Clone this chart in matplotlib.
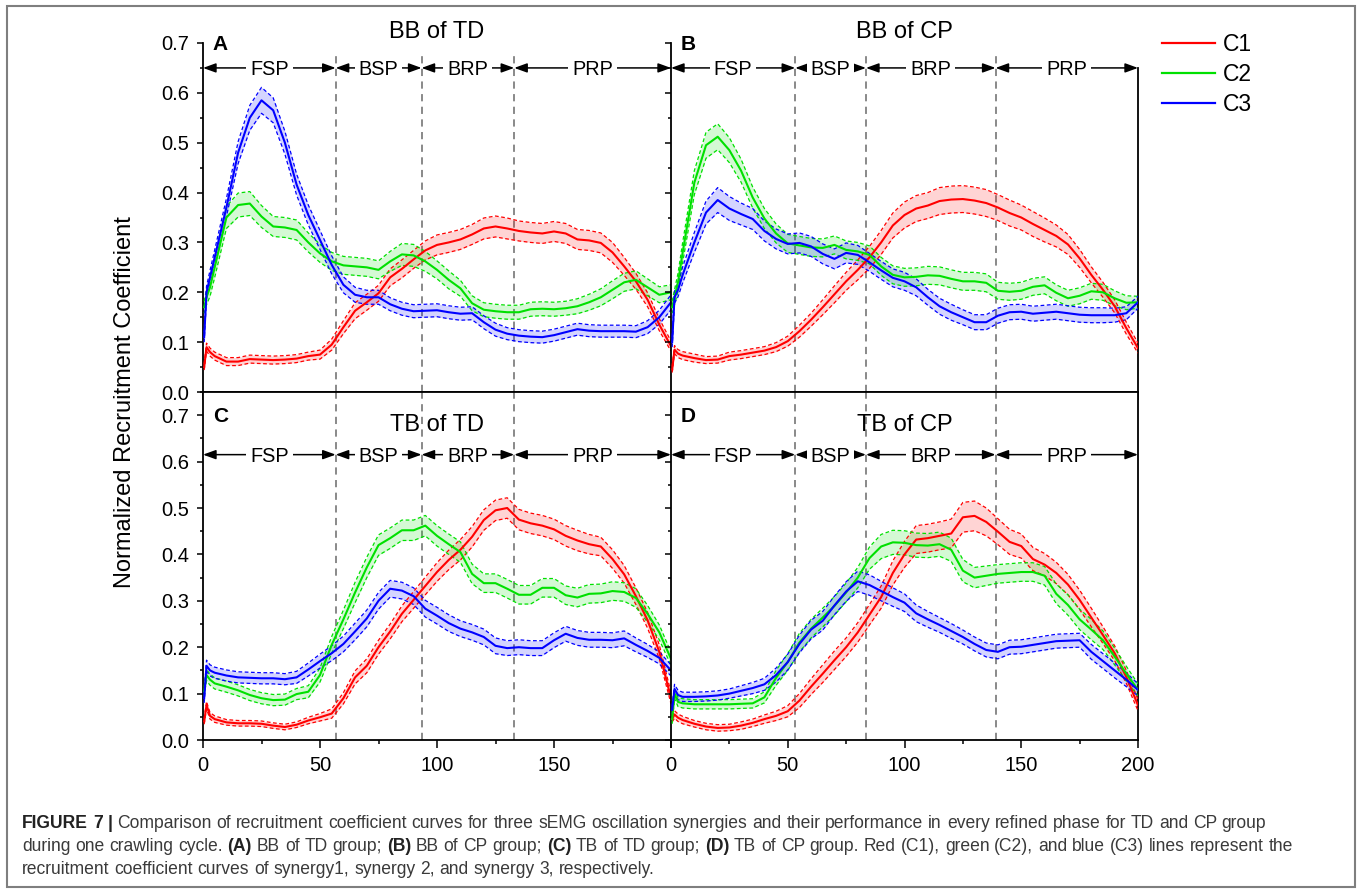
import numpy as np
import matplotlib
matplotlib.use("Agg")
import matplotlib.pyplot as plt
from matplotlib.patches import Rectangle
from matplotlib.lines import Line2D
from matplotlib.ticker import MultipleLocator

plt.rcParams["font.family"] = ["Liberation Sans", "DejaVu Sans"]

# sample positions along the crawling cycle
X = [0.5, 1.5, 3, 5,
     10, 15, 20, 25, 30, 35, 40, 45, 50,
     55, 60, 65, 70, 75, 80, 85, 90, 95, 100,
     105, 110, 115, 120, 125, 130, 135, 140, 145, 150,
     155, 160, 165, 170, 175, 180, 185, 190, 195, 200]

# ---- A: BB of TD
A_C1 = [0.05, 0.09, 0.08, 0.072,
        0.061, 0.061, 0.066, 0.065, 0.064, 0.065, 0.067, 0.072, 0.075,
        0.095, 0.13, 0.163, 0.18, 0.198, 0.23, 0.247, 0.266, 0.284, 0.295,
        0.30, 0.306, 0.316, 0.328, 0.332, 0.328, 0.323, 0.32, 0.318, 0.322,
        0.318, 0.306, 0.304, 0.299, 0.28, 0.252, 0.222, 0.185, 0.135, 0.092]
A_C1_SD = [0.006, 0.008, 0.008, 0.008,
           0.008, 0.008, 0.008, 0.008, 0.008, 0.008, 0.008, 0.008, 0.009,
           0.011, 0.013, 0.016, 0.016, 0.016, 0.017, 0.018, 0.018, 0.019, 0.02,
           0.02, 0.02, 0.02, 0.021, 0.021, 0.021, 0.02, 0.02, 0.02, 0.02,
           0.02, 0.02, 0.02, 0.02, 0.02, 0.018, 0.016, 0.014, 0.012, 0.01]
A_C2 = [0.17, 0.19, 0.21, 0.25,
        0.35, 0.375, 0.378, 0.352, 0.332, 0.33, 0.325, 0.30, 0.278,
        0.262, 0.254, 0.252, 0.25, 0.245, 0.262, 0.276, 0.274, 0.262, 0.245,
        0.225, 0.208, 0.178, 0.165, 0.162, 0.16, 0.16, 0.166, 0.167, 0.166,
        0.168, 0.172, 0.18, 0.19, 0.205, 0.22, 0.225, 0.21, 0.195, 0.2]
A_C2_SD = [0.012, 0.015, 0.018, 0.02,
           0.022, 0.024, 0.024, 0.022, 0.02, 0.02, 0.02, 0.019, 0.018,
           0.018, 0.018, 0.018, 0.018, 0.018, 0.02, 0.022, 0.022, 0.02, 0.018,
           0.018, 0.016, 0.015, 0.014, 0.014, 0.014, 0.014, 0.014, 0.014, 0.014,
           0.014, 0.015, 0.016, 0.017, 0.018, 0.018, 0.018, 0.017, 0.016, 0.015]
A_C3 = [0.11, 0.2, 0.23, 0.27,
        0.37, 0.48, 0.55, 0.585, 0.565, 0.50, 0.416, 0.355, 0.305,
        0.255, 0.215, 0.195, 0.19, 0.19, 0.176, 0.167, 0.162, 0.163, 0.164,
        0.160, 0.157, 0.158, 0.140, 0.125, 0.117, 0.113, 0.111, 0.110, 0.114,
        0.120, 0.126, 0.123, 0.122, 0.122, 0.122, 0.121, 0.130, 0.150, 0.18]
A_C3_SD = [0.01, 0.012, 0.014, 0.015,
           0.018, 0.022, 0.025, 0.026, 0.025, 0.023, 0.021, 0.02, 0.019,
           0.018, 0.016, 0.015, 0.014, 0.014, 0.013, 0.013, 0.013, 0.013, 0.013,
           0.013, 0.013, 0.013, 0.013, 0.013, 0.012, 0.012, 0.012, 0.012, 0.012,
           0.012, 0.012, 0.012, 0.012, 0.012, 0.012, 0.012, 0.013, 0.014, 0.015]

# ---- B: BB of CP
B_C1 = [0.045, 0.085, 0.077, 0.073,
        0.068, 0.064, 0.065, 0.072, 0.075, 0.079, 0.083, 0.09, 0.102,
        0.122, 0.145, 0.17, 0.196, 0.222, 0.245, 0.27, 0.30, 0.334, 0.355,
        0.368, 0.374, 0.383, 0.386, 0.387, 0.384, 0.379, 0.37, 0.359, 0.35,
        0.337, 0.325, 0.313, 0.296, 0.268, 0.235, 0.205, 0.172, 0.128, 0.088]
B_C1_SD = [0.006, 0.008, 0.008, 0.008,
           0.008, 0.007, 0.007, 0.008, 0.008, 0.008, 0.008, 0.009, 0.01,
           0.012, 0.013, 0.015, 0.017, 0.018, 0.02, 0.022, 0.024, 0.025, 0.026,
           0.026, 0.026, 0.027, 0.027, 0.027, 0.027, 0.027, 0.026, 0.026, 0.025,
           0.025, 0.024, 0.022, 0.02, 0.018, 0.016, 0.015, 0.013, 0.012, 0.01]
B_C2 = [0.17, 0.19, 0.22, 0.28,
        0.42, 0.495, 0.512, 0.485, 0.444, 0.39, 0.348, 0.318, 0.298,
        0.294, 0.29, 0.289, 0.295, 0.285, 0.282, 0.275, 0.252, 0.235, 0.23,
        0.231, 0.234, 0.233, 0.227, 0.222, 0.222, 0.219, 0.203, 0.201, 0.203,
        0.211, 0.214, 0.199, 0.188, 0.193, 0.202, 0.2, 0.188, 0.179, 0.18]
B_C2_SD = [0.012, 0.015, 0.018, 0.02,
           0.024, 0.026, 0.026, 0.025, 0.023, 0.021, 0.02, 0.019, 0.018,
           0.018, 0.018, 0.018, 0.018, 0.018, 0.018, 0.018, 0.018, 0.018, 0.018,
           0.018, 0.018, 0.018, 0.018, 0.018, 0.018, 0.018, 0.017, 0.017, 0.017,
           0.017, 0.017, 0.016, 0.016, 0.016, 0.016, 0.016, 0.015, 0.014, 0.012]
B_C3 = [0.10, 0.19, 0.205, 0.235,
        0.30, 0.36, 0.385, 0.368, 0.357, 0.347, 0.323, 0.307, 0.297,
        0.299, 0.292, 0.277, 0.267, 0.279, 0.275, 0.26, 0.244, 0.229, 0.222,
        0.21, 0.19, 0.172, 0.16, 0.15, 0.14, 0.14, 0.153, 0.16, 0.161,
        0.157, 0.159, 0.161, 0.158, 0.155, 0.154, 0.154, 0.154, 0.158, 0.18]
B_C3_SD = [0.01, 0.012, 0.014, 0.016,
           0.02, 0.023, 0.025, 0.024, 0.022, 0.021, 0.02, 0.02, 0.02,
           0.02, 0.02, 0.02, 0.02, 0.02, 0.019, 0.018, 0.018, 0.018, 0.018,
           0.017, 0.016, 0.016, 0.016, 0.015, 0.015, 0.015, 0.015, 0.015, 0.015,
           0.015, 0.015, 0.015, 0.015, 0.015, 0.015, 0.015, 0.014, 0.013, 0.012]

# ---- C: TB of TD
C_C1 = [0.04, 0.075, 0.052, 0.045,
        0.038, 0.036, 0.036, 0.035, 0.031, 0.028, 0.033, 0.042, 0.049,
        0.057, 0.09, 0.135, 0.16, 0.2, 0.234, 0.272, 0.302, 0.332, 0.362,
        0.388, 0.41, 0.438, 0.474, 0.495, 0.5, 0.475, 0.467, 0.462, 0.454,
        0.44, 0.43, 0.422, 0.417, 0.39, 0.357, 0.31, 0.258, 0.19, 0.09]
C_C1_SD = [0.006, 0.008, 0.007, 0.007,
           0.006, 0.006, 0.006, 0.006, 0.006, 0.006, 0.006, 0.007, 0.008,
           0.01, 0.012, 0.014, 0.015, 0.015, 0.016, 0.017, 0.018, 0.019, 0.02,
           0.021, 0.022, 0.022, 0.022, 0.022, 0.022, 0.022, 0.022, 0.022, 0.022,
           0.022, 0.022, 0.021, 0.02, 0.02, 0.019, 0.018, 0.017, 0.015, 0.012]
C_C2 = [0.105, 0.14, 0.13, 0.122,
        0.115, 0.107, 0.097, 0.09, 0.086, 0.087, 0.099, 0.104, 0.14,
        0.205, 0.26, 0.318, 0.372, 0.42, 0.435, 0.452, 0.452, 0.462, 0.44,
        0.422, 0.405, 0.358, 0.338, 0.338, 0.326, 0.313, 0.313, 0.328, 0.328,
        0.312, 0.307, 0.315, 0.316, 0.321, 0.319, 0.306, 0.272, 0.232, 0.175]
C_C2_SD = [0.01, 0.012, 0.012, 0.012,
           0.012, 0.012, 0.012, 0.012, 0.012, 0.012, 0.012, 0.013, 0.015,
           0.018, 0.02, 0.022, 0.022, 0.022, 0.022, 0.022, 0.022, 0.022, 0.022,
           0.022, 0.022, 0.021, 0.02, 0.02, 0.02, 0.02, 0.02, 0.02, 0.02,
           0.02, 0.02, 0.02, 0.02, 0.02, 0.02, 0.02, 0.018, 0.016, 0.014]
C_C3 = [0.09, 0.16, 0.15, 0.145,
        0.139, 0.135, 0.134, 0.133, 0.133, 0.131, 0.135, 0.152, 0.17,
        0.187, 0.207, 0.234, 0.262, 0.3, 0.326, 0.322, 0.31, 0.283, 0.268,
        0.252, 0.24, 0.232, 0.222, 0.203, 0.198, 0.2, 0.198, 0.198, 0.215,
        0.229, 0.22, 0.216, 0.216, 0.215, 0.219, 0.205, 0.192, 0.177, 0.15]
C_C3_SD = [0.01, 0.012, 0.012, 0.012,
           0.012, 0.012, 0.012, 0.012, 0.012, 0.012, 0.013, 0.014, 0.015,
           0.016, 0.017, 0.018, 0.018, 0.018, 0.018, 0.018, 0.018, 0.018, 0.018,
           0.018, 0.017, 0.017, 0.017, 0.017, 0.016, 0.016, 0.016, 0.016, 0.016,
           0.016, 0.016, 0.016, 0.016, 0.016, 0.016, 0.015, 0.014, 0.013, 0.012]

# ---- D: TB of CP
D_C1 = [0.045, 0.055, 0.048, 0.043,
        0.035, 0.029, 0.026, 0.027, 0.031, 0.037, 0.045, 0.052, 0.062,
        0.085, 0.115, 0.143, 0.172, 0.2, 0.232, 0.27, 0.308, 0.36, 0.4,
        0.432, 0.435, 0.44, 0.445, 0.48, 0.483, 0.47, 0.449, 0.427, 0.418,
        0.39, 0.378, 0.36, 0.335, 0.302, 0.264, 0.226, 0.187, 0.136, 0.075]
D_C1_SD = [0.006, 0.008, 0.008, 0.008,
           0.007, 0.007, 0.007, 0.007, 0.008, 0.008, 0.009, 0.01, 0.012,
           0.015, 0.017, 0.019, 0.02, 0.02, 0.021, 0.022, 0.024, 0.026, 0.028,
           0.03, 0.03, 0.03, 0.031, 0.032, 0.032, 0.03, 0.028, 0.027, 0.026,
           0.025, 0.024, 0.023, 0.022, 0.021, 0.02, 0.018, 0.016, 0.014, 0.012]
D_C2 = [0.045, 0.1, 0.082, 0.079,
        0.077, 0.077, 0.077, 0.077, 0.078, 0.079, 0.092, 0.134, 0.168,
        0.21, 0.24, 0.264, 0.289, 0.318, 0.35, 0.392, 0.417, 0.426, 0.425,
        0.42, 0.419, 0.422, 0.41, 0.365, 0.35, 0.354, 0.358, 0.36, 0.362,
        0.362, 0.354, 0.315, 0.291, 0.26, 0.238, 0.215, 0.18, 0.143, 0.108]
D_C2_SD = [0.01, 0.01, 0.01, 0.01,
           0.01, 0.01, 0.01, 0.01, 0.01, 0.01, 0.012, 0.016, 0.018,
           0.02, 0.02, 0.02, 0.02, 0.02, 0.022, 0.024, 0.026, 0.026, 0.026,
           0.026, 0.026, 0.026, 0.025, 0.024, 0.022, 0.021, 0.02, 0.02, 0.02,
           0.02, 0.02, 0.021, 0.022, 0.022, 0.022, 0.02, 0.018, 0.016, 0.013]
D_C3 = [0.065, 0.11, 0.097, 0.093,
        0.093, 0.094, 0.096, 0.1, 0.106, 0.112, 0.12, 0.14, 0.168,
        0.207, 0.238, 0.257, 0.29, 0.32, 0.342, 0.334, 0.321, 0.308, 0.296,
        0.273, 0.26, 0.248, 0.235, 0.222, 0.207, 0.194, 0.19, 0.2, 0.201,
        0.205, 0.209, 0.213, 0.214, 0.215, 0.19, 0.17, 0.15, 0.13, 0.108]
D_C3_SD = [0.008, 0.01, 0.01, 0.01,
           0.01, 0.01, 0.01, 0.01, 0.011, 0.012, 0.013, 0.015, 0.017,
           0.019, 0.02, 0.02, 0.02, 0.021, 0.022, 0.022, 0.021, 0.02, 0.019,
           0.018, 0.017, 0.016, 0.016, 0.015, 0.015, 0.015, 0.015, 0.015, 0.015,
           0.015, 0.015, 0.015, 0.015, 0.015, 0.016, 0.016, 0.016, 0.015, 0.013]

PHASES = ["FSP", "BSP", "BRP", "PRP"]
TD_BOUNDS = [56.7, 93.4, 133.0]
CP_BOUNDS = [53.2, 83.5, 139.0]
LABELS = ["C1", "C2", "C3"]
COLORS = ["#ff0000", "#00e000", "#0000ff"]

W, H = 1362, 891
fig = plt.figure(figsize=(W / 100, H / 100), dpi=100)


def px_box(l, t, r, b):
    return [l / W, 1 - b / H, (r - l) / W, (b - t) / H]


axA = fig.add_axes(px_box(203, 43, 671, 392))
axB = fig.add_axes(px_box(671, 43, 1138, 392))
axC = fig.add_axes(px_box(203, 392, 671, 740))
axD = fig.add_axes(px_box(671, 392, 1138, 740))

panels = [
    (axA, "A", "BB of TD", [A_C1, A_C2, A_C3], [A_C1_SD, A_C2_SD, A_C3_SD], TD_BOUNDS, True),
    (axB, "B", "BB of CP", [B_C1, B_C2, B_C3], [B_C1_SD, B_C2_SD, B_C3_SD], CP_BOUNDS, True),
    (axC, "C", "TB of TD", [C_C1, C_C2, C_C3], [C_C1_SD, C_C2_SD, C_C3_SD], TD_BOUNDS, False),
    (axD, "D", "TB of CP", [D_C1, D_C2, D_C3], [D_C1_SD, D_C2_SD, D_C3_SD], CP_BOUNDS, False),
]

x = np.array(X)
for ax, letter, title, means, sds, bounds, top in panels:
    for m, s, c in zip(means, sds, COLORS):
        m = np.array(m)
        s = np.array(s)
        ax.fill_between(x, m - s, m + s, color=c, alpha=0.17, lw=0, zorder=2)
        ax.plot(x, m + s, color=c, lw=0.9, ls=(0, (3, 2)), zorder=3)
        ax.plot(x, m - s, color=c, lw=0.9, ls=(0, (3, 2)), zorder=3)
        ax.plot(x, m, color=c, lw=1.5, zorder=4)

    ax.set_xlim(0, 200)
    ax.set_ylim(0, 0.7 if top else 0.75)
    ax.xaxis.set_major_locator(MultipleLocator(50))
    ax.xaxis.set_minor_locator(MultipleLocator(25))
    ax.yaxis.set_major_locator(MultipleLocator(0.1))
    ax.yaxis.set_minor_locator(MultipleLocator(0.05))
    ax.tick_params(axis="both", which="both", direction="out", width=1.1,
                   labelsize=14.5, top=False, right=False)
    ax.tick_params(axis="y", which="major", length=4.5, pad=5.5)
    ax.tick_params(axis="y", which="minor", length=2.5)
    ax.tick_params(axis="x", which="major", length=5.5, pad=6)
    ax.tick_params(axis="x", which="minor", length=3)
    for sp in ax.spines.values():
        sp.set_linewidth(1.3)

    # phase boundaries
    ytop = 0.676 if top else 0.75
    ax.vlines(bounds, 0, ytop, colors="#808080", linestyles=(0, (4, 3)), lw=1.3, zorder=1)

    # phase arrows
    yarr = 0.65 if top else 0.615
    edges = [0] + bounds + [200]
    for i, name in enumerate(PHASES):
        a, b = edges[i], edges[i + 1]
        ax.annotate("", xy=(b, yarr), xytext=(a, yarr),
                    arrowprops=dict(arrowstyle="<|-|>,head_length=0.55,head_width=0.2",
                                    color="black", lw=1.1, shrinkA=0, shrinkB=0,
                                    mutation_scale=14),
                    annotation_clip=False)
        ax.text((a + b) / 2, yarr, name, ha="center", va="center_baseline",
                fontsize=14.3, zorder=6,
                bbox=dict(boxstyle="square,pad=0.2", fc="white", ec="none"))

    if top:
        ax.set_title(title, fontsize=17, pad=1.5)
        ax.spines["top"].set_visible(False)
        ax.tick_params(labelbottom=False)
        ax.annotate(letter, xy=(0, 1), xycoords="axes fraction", xytext=(7, -5),
                    textcoords="offset points", ha="left", va="baseline",
                    fontsize=15, fontweight="bold")
    else:
        ax.text(0.5, 0.667, title, transform=ax.get_yaxis_transform(),
                ha="center", va="baseline", fontsize=17)
        ax.annotate(letter, xy=(0, 1), xycoords="axes fraction", xytext=(7, -21.6),
                    textcoords="offset points", ha="left", va="baseline",
                    fontsize=15, fontweight="bold")

axA.spines["right"].set_visible(False)
axC.spines["right"].set_visible(False)
axB.spines["right"].set_bounds(0, 0.65)
axB.tick_params(labelleft=False)
axD.tick_params(labelleft=False)
axC.set_xticks([0, 50, 100, 150, 200])
axC.set_xticklabels(["0", "50", "100", "150", ""])

fig.text(125 / W, 1 - 402 / H, "Normalized Recruitment Coefficient", rotation=90,
         ha="center", va="center", fontsize=17)

handles = [Line2D([], [], color=c, lw=1.6) for c in COLORS]
fig.legend(handles, LABELS, loc="upper left", bbox_to_anchor=(1162 / W, 1 - 33 / H),
           frameon=False, fontsize=16.5, handlelength=2.3, handletextpad=0.35,
           labelspacing=0.3, borderpad=0, borderaxespad=0)

# outer frame
fig.patches.append(Rectangle((7 / W, 1 - 887 / H), (1355 - 7) / W, (887 - 6) / H,
                             transform=fig.transFigure, fill=False,
                             edgecolor="#7f7f7f", lw=1.5))

# caption with bold runs
CAP_FONT = ["Liberation Sans Narrow", "Liberation Sans", "DejaVu Sans"]
caption = [
    [("FIGURE 7 |", True),
     ("Comparison of recruitment coefficient curves for three sEMG oscillation synergies "
      "and their performance in every refined phase for TD and CP group", False)],
    [("during one crawling cycle.", False), ("(A)", True), ("BB of TD group;", False),
     ("(B)", True), ("BB of CP group;", False), ("(C)", True), ("TB of TD group;", False),
     ("(D)", True), ("TB of CP group. Red (C1), green (C2), and blue (C3) lines represent the", False)],
    [("recruitment coefficient curves of synergy1, synergy 2, and synergy 3, respectively.", False)],
]
renderer = fig.canvas.get_renderer()


def tokens(runs):
    out = []
    for s, bold in runs:
        for w in s.split():
            out.append((w, bold))
    return out


def text_w(s, size, bold):
    t = fig.text(0, 0, s, fontsize=size, family=CAP_FONT,
                 fontweight="bold" if bold else "normal")
    w = t.get_window_extent(renderer).width
    t.remove()
    return w


def line_w(runs, size):
    sp = text_w("a a", size, False) - text_w("aa", size, False)
    toks = tokens(runs)
    return sum(text_w(w, size, b) for w, b in toks) + sp * (len(toks) - 1)


cap_size = min(10 * 1281 / line_w(caption[0], 10), 10 * 1280 / line_w(caption[1], 10))
space = text_w("a a", cap_size, False) - text_w("aa", cap_size, False)
for runs, base in zip(caption, [828, 851, 874]):
    xpos = 22
    for w, b in tokens(runs):
        t = fig.text(xpos / W, 1 - base / H, w, fontsize=cap_size, family=CAP_FONT,
                     fontweight="bold" if b else "normal",
                     color="#222222" if b else "#3a3a3a", ha="left", va="baseline")
        xpos += t.get_window_extent(renderer).width + space

fig.savefig("out.png", dpi=100)
